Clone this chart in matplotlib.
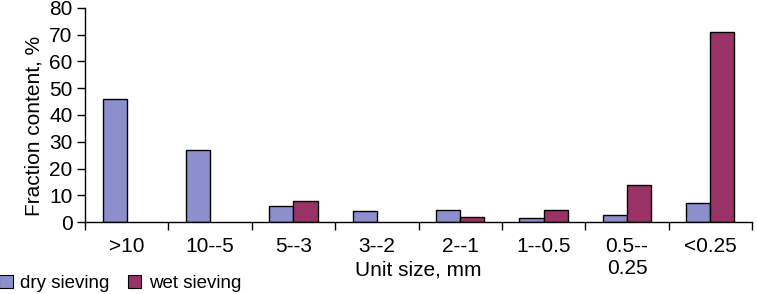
import matplotlib
matplotlib.use("Agg")
import matplotlib.pyplot as plt
import numpy as np
from matplotlib.patches import Patch

categories = [">10", "10--5", "5--3", "3--2", "2--1", "1--0.5", "0.5--\n0.25", "<0.25"]
dry = [46, 27, 6, 4, 4.6, 1.5, 2.7, 7]
wet = [0, 0, 8, 0, 1.7, 4.4, 14, 71]
yticks = [0, 10, 20, 30, 40, 50, 60, 70, 80]

plt.rcParams['font.family'] = ['Liberation Sans', 'DejaVu Sans']
fs = 15

fig = plt.figure(figsize=(7.57, 2.94), dpi=100)
ax = fig.add_axes([85/757, 1-222/294, (752-85)/757, (222-8)/294])

x = np.arange(len(categories))
w = 0.29
c_dry = '#8C8FCC'
c_wet = '#993366'
b1 = ax.bar(x - w/2, dry, w, color=c_dry, edgecolor='black', linewidth=1.0)
b2 = ax.bar(x + w/2, wet, w, color=c_wet, edgecolor='black', linewidth=1.0)
for bars, vals in ((b1, dry), (b2, wet)):
    for r, v in zip(bars, vals):
        if v == 0:
            r.set_linewidth(0)

ax.set_xlim(-0.5, len(categories) - 0.5)
ax.set_ylim(0, 80)
ax.set_yticks(yticks)
ax.set_yticklabels([str(v) for v in yticks], fontsize=fs)
ax.set_xticks(np.arange(-0.5, len(categories)), labels=[''] * (len(categories) + 1))
ax.set_xticks(x, labels=categories, minor=True, fontsize=fs, va='top', linespacing=1.2)
ax.tick_params(axis='x', which='minor', length=0, pad=11)
ax.tick_params(axis='x', which='major', length=6, width=1.0, direction='out')
ax.tick_params(axis='y', length=6, width=1.0, direction='out', pad=3)
for s in ['top', 'right']:
    ax.spines[s].set_visible(False)
for s in ['left', 'bottom']:
    ax.spines[s].set_linewidth(1.0)

ax.set_ylabel("Fraction content, %", fontsize=fs)
ax.yaxis.set_label_coords(-0.062, 0.45)
fig.text((85+752)/2/757, 1-270/294, "Unit size, mm", fontsize=fs, ha='center', va='center')

handles = [Patch(facecolor=c_dry, edgecolor='black', linewidth=0.8, label='dry sieving'),
           Patch(facecolor=c_wet, edgecolor='black', linewidth=0.8, label='wet sieving')]
fig.legend(handles=handles, loc='lower left', bbox_to_anchor=(-0.018, -0.038), ncol=2,
           frameon=False, fontsize=13.5, handlelength=0.7, handleheight=0.7,
           handletextpad=0.4, columnspacing=1.0, borderpad=0.2)

fig.savefig("out.png", dpi=100)
